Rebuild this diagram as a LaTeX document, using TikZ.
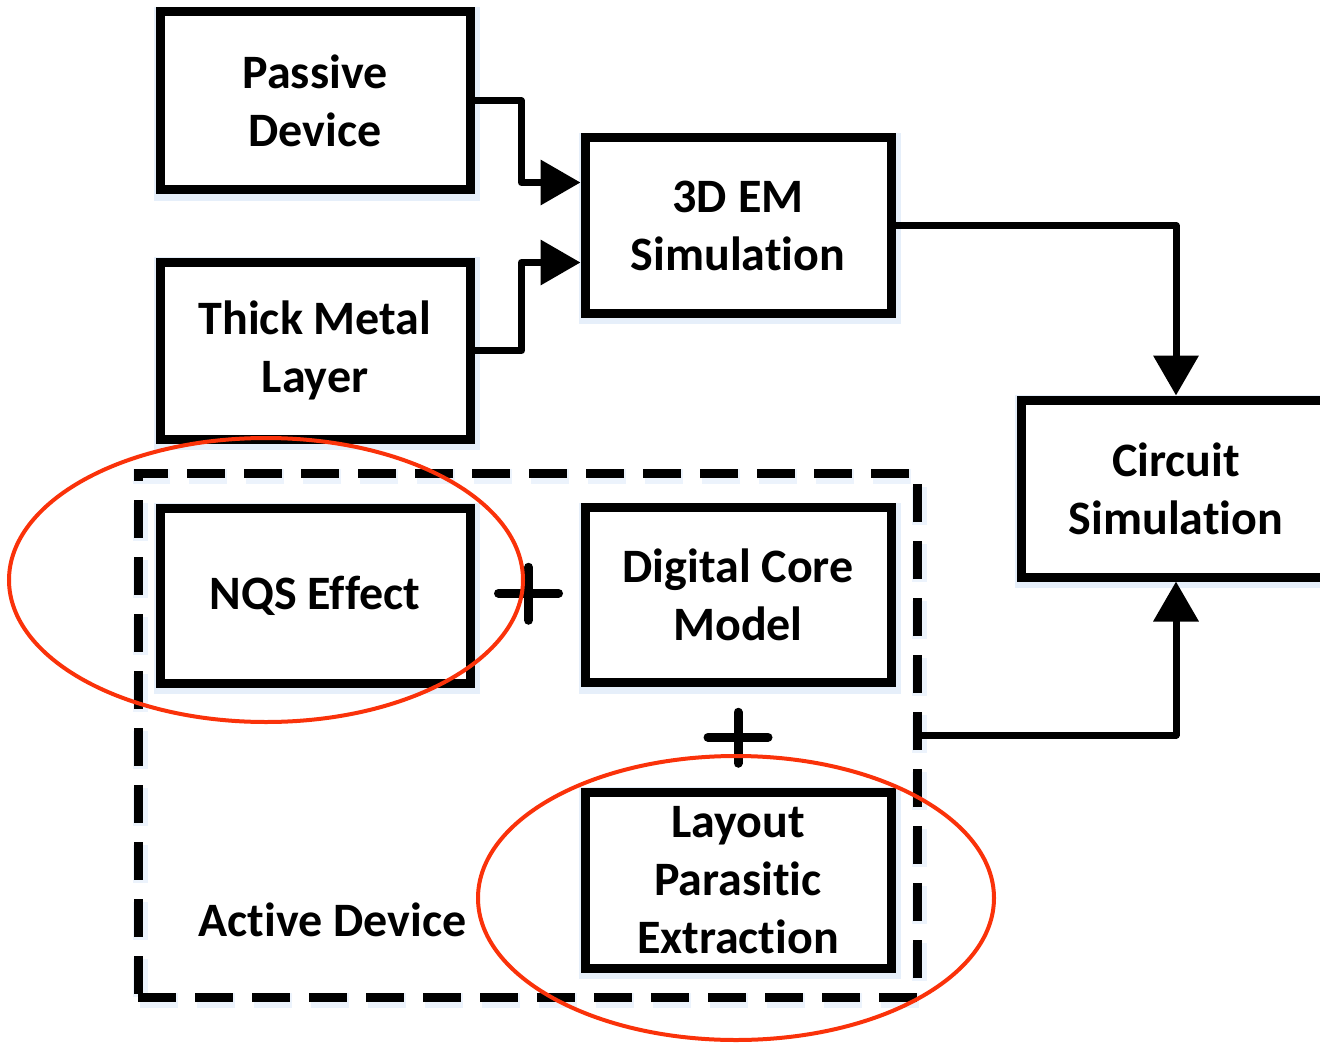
\documentclass[tikz,border=0pt]{standalone}
\usepackage{fontspec}
\setmainfont{Carlito}[Ligatures={NoCommon,NoContextual,NoRare}, Contextuals=NoAlternate]
\usetikzlibrary{arrows.meta,calc}
\definecolor{ovalred}{RGB}{250,50,10}
\definecolor{glow}{RGB}{200,220,245}
\newcommand{\nlg}{\kern0pt }
\begin{document}
\begin{tikzpicture}[x=1pt,y=-1pt,
  box/.style={draw=black, line width=9pt, fill=white, align=center,
    font=\fontsize{48}{58}\selectfont\bfseries,
    preaction={draw=glow, line width=16pt, opacity=0.45, transform canvas={shift={(2pt,-3pt)}}}},
  dashbox/.style={draw=black, line width=9pt, dash pattern=on 38pt off 19pt,
    preaction={draw=glow, line width=15pt, opacity=0.35, dash pattern=on 38pt off 19pt, transform canvas={shift={(2pt,-3pt)}}}},
  conn/.style={draw=black, line width=7pt, line join=round, -{Triangle[length=40pt,width=44pt]}},
  plussign/.style={draw=black, line width=9pt, line cap=round},
  oval/.style={draw=ovalred, line width=4pt},
  lbl/.style={font=\fontsize{48}{58}\selectfont\bfseries}
]
\useasboundingbox (0,0) rectangle (1320,1043);

% dashed active device region
\node[dashbox, minimum width=779pt, minimum height=524pt, inner sep=0pt] (ad) at (527.5,735) {};

% boxes
\node[box, minimum width=310pt, minimum height=178pt] (pd) at (315,101) {Passive\\Device};
\node[box, minimum width=310pt, minimum height=177pt] (tm) at (315,350.5) {Thick Metal\\Layer};
\node[box, minimum width=306pt, minimum height=175pt] (em) at (738,225.5) {3D EM\\Simulat\nlg ion};
\node[box, minimum width=310pt, minimum height=177pt] (cs) at (1176,488.5) {Circuit\\Simulat\nlg ion};
\node[box, minimum width=310pt, minimum height=175pt] (nqs) at (315,595.5) {NQS Ef\nlg fect};
\node[box, minimum width=306pt, minimum height=175pt] (dcm) at (738,595) {Digital Core\\Model};
\node[box, minimum width=306pt, minimum height=176pt] (lpe) at (738,880) {Layout\\Parasit\nlg ic\\Extract\nlg ion};

\node[lbl, anchor=west] (adl) at (195,920) {Active Device};

% connectors
\coordinate (emin1) at ([yshift=43pt]em.west);
\coordinate (emin2) at ([yshift=-37pt]em.west);
\draw[conn] (pd.east) -- ++(47,0) |- (emin1);
\draw[conn] (tm.east) -- ++(47,0) |- (emin2);
\draw[conn] (em.east) -| (cs.north);
\draw[conn] (ad.east) -| (cs.south);

% plus signs
\coordinate (p1) at ($(nqs.east)!0.5!(dcm.west)+(1,-2)$);
\coordinate (p2) at ($(dcm.south)!0.5!(lpe.north)$);
\draw[plussign] ($(p1)+(-30,0)$) -- ($(p1)+(30,0)$);
\draw[plussign] ($(p1)+(0,-26)$) -- ($(p1)+(0,27)$);
\draw[plussign] ($(p2)+(-30,0)$) -- ($(p2)+(30,0)$);
\draw[plussign] ($(p2)+(0,-25)$) -- ($(p2)+(0,26)$);

% red ovals
\draw[oval] (266,580) ellipse [x radius=257pt, y radius=142pt];
\draw[oval] (736,898) ellipse [x radius=258pt, y radius=142pt];
\end{tikzpicture}
\end{document}
